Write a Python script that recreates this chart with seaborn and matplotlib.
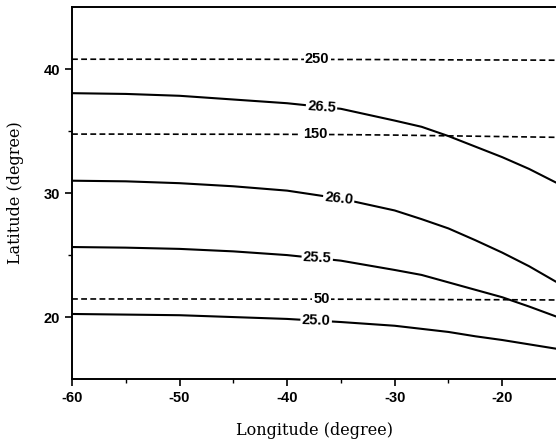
"""
Contour-style chart: density (solid) and depth (dashed) lines vs longitude/latitude.
"""

import matplotlib
matplotlib.use('Agg')
import matplotlib.pyplot as plt
import seaborn as sns
import pandas as pd
import numpy as np
from matplotlib.ticker import MultipleLocator, FixedLocator

lon = [-60, -55, -50, -45, -40, -35, -30, -27.5, -25, -22.5, -20, -17.5, -15]

# Solid lines (density levels)
lat_265 = [38.06, 38.0, 37.85, 37.55, 37.25, 36.8, 35.85, 35.35, 34.6, 33.75, 32.9, 31.95, 30.85]
lat_260 = [31.0, 30.95, 30.8, 30.55, 30.2, 29.55, 28.6, 27.9, 27.15, 26.2, 25.2, 24.1, 22.85]
lat_255 = [25.65, 25.6, 25.5, 25.3, 25.0, 24.55, 23.8, 23.4, 22.8, 22.2, 21.6, 20.85, 20.05]
lat_250 = [20.25, 20.2, 20.15, 20.0, 19.85, 19.6, 19.3, 19.05, 18.8, 18.45, 18.15, 17.8, 17.45]

# Dashed lines (depth levels)
lat_d250 = [40.8, 40.8, 40.8, 40.8, 40.79, 40.78, 40.77, 40.76, 40.75, 40.74, 40.74, 40.73, 40.72]
lat_d150 = [34.76, 34.76, 34.75, 34.75, 34.74, 34.72, 34.68, 34.65, 34.62, 34.59, 34.56, 34.53, 34.5]
lat_d50 = [21.46, 21.46, 21.46, 21.45, 21.45, 21.44, 21.43, 21.42, 21.41, 21.4, 21.4, 21.39, 21.38]

curves = [
    ('26.5', lat_265, '-', -36.8, -4),
    ('26.0', lat_260, '-', -35.2, -6),
    ('25.5', lat_255, '-', -37.2, -3),
    ('25.0', lat_250, '-', -37.3, -2),
    ('250', lat_d250, '--', -37.2, 0),
    ('150', lat_d150, '--', -37.4, 0),
    ('50', lat_d50, '--', -36.8, 0),
]

sns.set_style('ticks')
plt.rcParams['axes.unicode_minus'] = False

fig = plt.figure(figsize=(5.56, 4.47), dpi=100)
ax = fig.add_axes([0.1295, 0.152, 0.8705, 0.832])

for name, lat, ls, lab_lon, rot in curves:
    df = pd.DataFrame({'lon': lon, 'lat': lat})
    sns.lineplot(data=df, x='lon', y='lat', ax=ax, color='black',
                 linewidth=1.5 if ls == '-' else 1.2)
    line = ax.lines[-1]
    if ls == '--':
        line.set_linestyle((0, (3.5, 2.0)))
    y = np.interp(lab_lon, lon, lat)
    ax.text(lab_lon, y, name, ha='center', va='center', fontsize=10.5,
            fontweight='bold', family='Liberation Sans', rotation=rot,
            color='black',
            bbox=dict(facecolor='white', edgecolor='none', pad=1.0))

ax.set_xlim(-60, -15)
ax.set_ylim(15, 45)
ax.xaxis.set_major_locator(MultipleLocator(10))
ax.xaxis.set_minor_locator(FixedLocator([-55, -45, -35, -25]))
ax.yaxis.set_major_locator(MultipleLocator(10))
ax.yaxis.set_minor_locator(FixedLocator([25, 35]))
ax.tick_params(which='major', direction='out', length=5, width=1.2,
               colors='black', labelcolor='black')
ax.tick_params(which='minor', direction='out', length=3, width=1.0, colors='black')

for lbl in ax.get_xticklabels() + ax.get_yticklabels():
    lbl.set_fontfamily('Liberation Sans')
    lbl.set_fontweight('bold')
    lbl.set_fontsize(10.5)

ax.spines['right'].set_visible(False)
for s in ['left', 'bottom', 'top']:
    ax.spines[s].set_linewidth(1.4)
    ax.spines[s].set_color('black')

ax.set_xlabel('Longitude (degree)', fontsize=11.5, family='DejaVu Serif',
              labelpad=12, color='black')
ax.set_ylabel('Latitude (degree)', fontsize=11.5, family='DejaVu Serif',
              labelpad=14, color='black')

plt.savefig('out.png', dpi=100)
plt.close()
